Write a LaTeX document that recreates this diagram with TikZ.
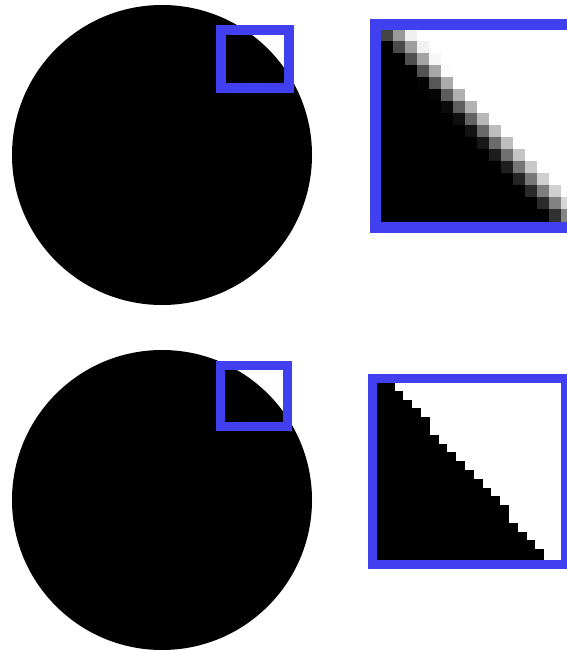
\documentclass[tikz,border=0pt]{standalone}
\definecolor{zoomblue}{RGB}{64,64,240}
\tikzset{
  zoombox/.style={draw=zoomblue,line width=#1},
}
\begin{document}
\begin{tikzpicture}[x=1pt,y=-1pt]
\useasboundingbox (0,0) rectangle (567,650);
\clip (0,0) rectangle (567,650);
% smooth circle and its close-up
\fill (162,155) circle (150);
\draw[zoombox=10] (221,30) rectangle (289,88);
\foreach \i in {0,...,15}{
  \foreach \j in {0,...,15}{
    \pgfmathtruncatemacro{\pct}{100*max(0,min(1,(1.2+0.95*\i-\j-0.5)/3+0.5))}
    \fill[black!\pct!white] (381+12*\j,29+12*\i) rectangle ++(12.5,12.5);
  }
}
\draw[zoombox=11] (375.5,24.5) rectangle (578.5,227.5);
% jagged circle and its close-up
\fill (162,500) circle (150);
\draw[zoombox=9] (220.5,365) rectangle (287.5,426);
\foreach \i in {0,...,19}{
  \pgfmathtruncatemacro{\k}{2.5+0.895*\i}
  \fill (377,382+8.8*\i) rectangle ++(8.8*\k,10.5);
}
\draw[zoombox=9] (372.5,378) rectangle (565.5,564);
\end{tikzpicture}
\end{document}
